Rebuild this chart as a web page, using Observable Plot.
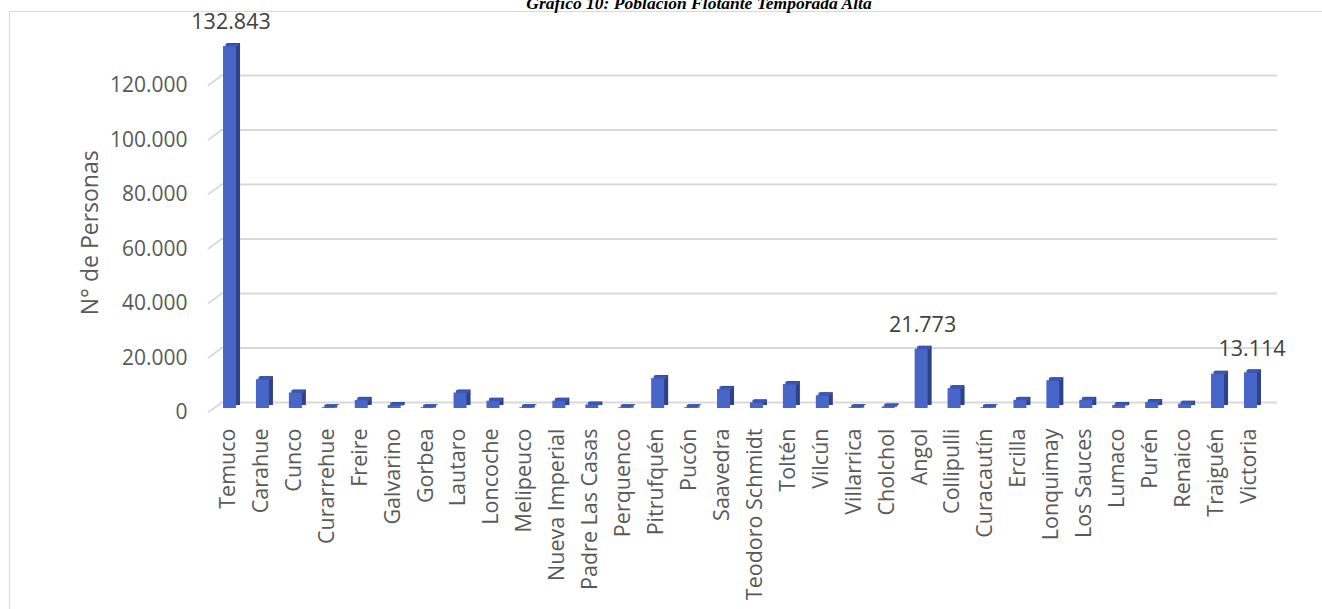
<!DOCTYPE html>
<html>
<head>
<meta charset="utf-8">
<script src="https://cdn.jsdelivr.net/npm/d3@7"></script>
<script src="https://cdn.jsdelivr.net/npm/@observablehq/plot@0.6"></script>
<style>
  html, body { margin: 0; padding: 0; background: #fff; }
  #wrap { position: relative; width: 1322px; height: 609px; overflow: hidden; }
  #border { position: absolute; left: 9px; top: 11px; width: 1400px; height: 700px; border: 1.5px solid #d9d9d9; box-sizing: border-box; }
  #title { position: absolute; left: 699px; top: -6px; transform: translateX(-50%); white-space: nowrap;
           font-family: "Liberation Serif", serif; font-weight: bold; font-style: italic; font-size: 17.5px; line-height: 18px; color: #000; }
  #chart { position: absolute; left: 0; top: 0; }
</style>
</head>
<body>
<div id="wrap">
  <div id="border"></div>
  <div id="title">Gráfico 10: Población Flotante Temporada Alta</div>
  <div id="chart"></div>
</div>
<script>
// ---- data ----
const comunas = ["Temuco","Carahue","Cunco","Curarrehue","Freire","Galvarino","Gorbea","Lautaro","Loncoche","Melipeuco","Nueva Imperial","Padre Las Casas","Perquenco","Pitrufquén","Pucón","Saavedra","Teodoro Schmidt","Toltén","Vilcún","Villarrica","Cholchol","Angol","Collipulli","Curacautín","Ercilla","Lonquimay","Los Sauces","Lumaco","Purén","Renaico","Traiguén","Victoria"];
const poblacion = [132843, 10600, 5700, 300, 3000, 1100, 300, 5700, 2700, 300, 2700, 1300, 300, 11000, 300, 7000, 2100, 8800, 4700, 300, 600, 21773, 7300, 300, 3000, 10200, 3000, 1100, 2200, 1600, 12600, 13114];
const etiquetadas = ["Temuco", "Angol", "Victoria"];
const yTicks = [0, 20000, 40000, 60000, 80000, 100000, 120000];
const yTitulo = "N° de Personas";

// ---- build ----
const data = comunas.map((c, i) => ({i, comuna: c, valor: poblacion[i]}));
const labeled = data.filter(d => etiquetadas.includes(d.comuna));
const es = d3.formatLocale({decimal: ",", thousands: ".", grouping: [3], currency: ["$", ""]});
const fmt = es.format(",d");

const W = 1322, H = 609;
const pxPerX = 32.935;           // pixels per category step
const hw = 6.5 / pxPerX;         // half width of the front face in x units
const pxPerY = 0.002725;          // pixels per person
const gridColor = "#d9d9d9";
const frontColor = "#4865c8", sideColor = "#2e4288", topColor = "#3b56b3";

const plot = Plot.plot({
  width: W,
  height: H,
  marginLeft: 203,
  marginRight: 45,
  marginTop: 26.5,
  marginBottom: 201,
  style: {fontFamily: "'Open Sans', sans-serif", background: "transparent", overflow: "visible"},
  x: {type: "linear", domain: [-0.8053, 31.8053], axis: null},
  y: {domain: [0, 140000], axis: null},
  marks: [
    Plot.ruleY(yTicks, {stroke: gridColor, strokeWidth: 1.8, insetLeft: 17, dy: -6}),
    Plot.link(yTicks, {x1: -0.67, x2: -0.29, y1: d => d - 4 / pxPerY, y2: d => d + 5 / pxPerY, stroke: gridColor, strokeWidth: 1.8}),
    Plot.text(yTicks, {frameAnchor: "left", y: d => d, text: d => fmt(d), textAnchor: "end", dx: -16, dy: 4, fontSize: 21, fill: "#595959"}),
    Plot.text([yTitulo], {frameAnchor: "left", textAnchor: "middle", rotate: -90, dx: -113, dy: 15, fontSize: 23, fill: "#595959"}),
    Plot.rectY(data, {x1: d => d.i - hw, x2: d => d.i + hw, y: "valor", dx: 4, dy: -3, fill: sideColor}),
    Plot.rectY(data, {x1: d => d.i - hw, x2: d => d.i + hw, y: "valor", fill: frontColor}),
    Plot.link(data, {x1: d => d.i - hw, x2: d => d.i + hw, y1: "valor", y2: "valor", dx: 2, dy: -1.5, stroke: topColor, strokeWidth: 3}),
    Plot.text(labeled, {x: "i", y: "valor", text: d => fmt(d.valor), dy: -24, dx: 1, fontSize: 21.5, fill: "#404040"}),
    Plot.axisX(data.map(d => d.i), {tickFormat: i => comunas[i], tickRotate: -90, tickSize: 0, tickPadding: 20, fontSize: 21.5, fill: "#595959", dx: -2, label: null})
  ]
});
document.getElementById("chart").appendChild(plot);
</script>
</body>
</html>
